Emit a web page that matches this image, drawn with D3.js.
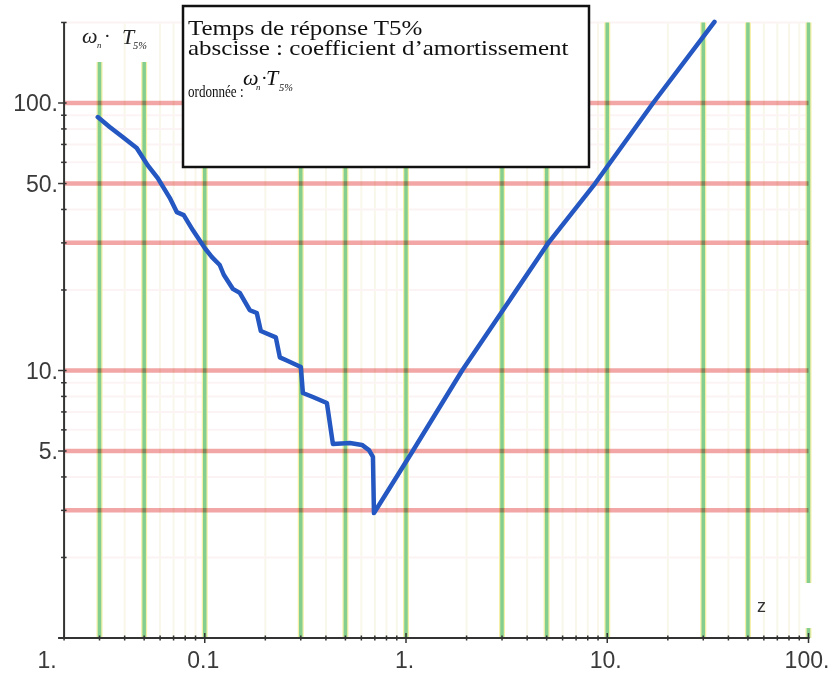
<!DOCTYPE html>
<html>
<head>
<meta charset="utf-8">
<script src="https://cdn.jsdelivr.net/npm/d3@7"></script>
<style>
  html, body { margin: 0; padding: 0; background: #fff; }
  svg { display: block; }
</style>
</head>
<body>
<svg id="chart" width="833" height="675"></svg>
<script>
// Damping coefficient z and normalised 5% response time wn*T5%
const zDamping = [0.0294, 0.0337, 0.0391, 0.0459, 0.0520, 0.0584, 0.0670, 0.0726, 0.0786, 0.0872,
                  0.100, 0.1083, 0.1187, 0.1243, 0.1378, 0.1493, 0.1674, 0.1814, 0.1899, 0.2255,
                  0.2361, 0.2558, 0.3003, 0.3073, 0.3446, 0.4045, 0.4333, 0.5265, 0.6042, 0.6546,
                  0.6851, 0.6931, 1.08, 1.9, 5.1, 8.7, 16.9, 34.1];
const wnT5 = [88.6, 81.4, 74.6, 67.9, 58.6, 52.4, 44.2, 39.1, 38.1, 33.5,
              28.7, 26.6, 24.8, 22.8, 20.2, 19.5, 16.8, 16.4, 14.05, 13.3,
              11.2, 10.9, 10.3, 8.24, 7.96, 7.56, 5.31, 5.36, 5.27, 5.04,
              4.75, 2.93, 5.0, 10, 30, 50, 100, 201];

// Reference grid lines
const greenZ = [0.03, 0.05, 0.1, 0.3, 0.5, 1, 3, 5, 10, 30, 50, 100];
const redY = [3, 5, 10, 30, 50, 100];

// Axis labels
const xTickValues = [0.1, 1, 10, 100];
const xTickLabels = ["0.1", "1.", "10.", "100."];
const xOriginLabel = "1.";
const yTickValues = [100, 50, 10, 5];
const yTickLabels = ["100.", "50.", "10.", "5."];

const legendLines = ["Temps de réponse T5%", "abscisse : coefficient d\u2019amortissement", "ordonnée :"];

const svg = d3.select("#chart");

const x = d3.scaleLog().domain([0.01, 100]).range([3.5, 808.5]);
const y = d3.scaleLog().domain([1, 100]).range([638, 103]);

const xMin = 0.02, xMax = 100, yMin = 1, yMax = 200;

// faint minor grid
const minorZ = [];
[0.01, 0.1, 1, 10].forEach(d => { for (let k = 2; k <= 9; k++) minorZ.push(+(d * k).toPrecision(6)); });
const minorY = [];
[1, 10, 100].forEach(d => { for (let k = 2; k <= 9; k++) if (d * k <= yMax) minorY.push(d * k); });

svg.append("g").selectAll("line")
  .data(minorZ.filter(d => d >= xMin && d <= xMax && !greenZ.includes(d)))
  .join("line")
  .attr("x1", d => x(d)).attr("x2", d => x(d))
  .attr("y1", y(yMax)).attr("y2", y(yMin))
  .attr("stroke", "#f8f7ea").attr("stroke-width", 2);

svg.append("g").selectAll("line")
  .data(minorY.filter(d => !redY.includes(d)))
  .join("line")
  .attr("x1", x(xMin)).attr("x2", x(xMax))
  .attr("y1", d => y(d)).attr("y2", d => y(d))
  .attr("stroke", "#fcf4f4").attr("stroke-width", 2);

// green verticals (yellow halo then green core)
const gTop = d => (d < 0.08 ? 62 : y(yMax));
const gSegments = [];
greenZ.forEach(d => {
  if (d === xMax) {
    gSegments.push([d, gTop(d), 583]);
    gSegments.push([d, 628, y(yMin)]);
  } else {
    gSegments.push([d, gTop(d), y(yMin)]);
  }
});
const gv = svg.append("g");
gv.selectAll("line.halo").data(gSegments).join("line").attr("class", "halo")
  .attr("x1", d => x(d[0])).attr("x2", d => x(d[0]))
  .attr("y1", d => d[1]).attr("y2", d => d[2])
  .attr("stroke", "#f4f0a6").attr("stroke-width", 6);
gv.selectAll("line.core").data(gSegments).join("line").attr("class", "core")
  .attr("x1", d => x(d[0])).attr("x2", d => x(d[0]))
  .attr("y1", d => d[1]).attr("y2", d => d[2])
  .attr("stroke", "#84ce90").attr("stroke-width", 3.5);

// red horizontals
svg.append("g").style("mix-blend-mode", "multiply")
  .selectAll("line").data(redY).join("line")
  .attr("x1", x(xMin)).attr("x2", x(xMax))
  .attr("y1", d => y(d)).attr("y2", d => y(d))
  .attr("stroke", "#f2a6a6").attr("stroke-width", 4.5);

// axes
const axisColor = "#333";
svg.append("line").attr("x1", x(xMin)).attr("x2", x(xMin))
  .attr("y1", y(yMax)).attr("y2", y(yMin) + 1)
  .attr("stroke", axisColor).attr("stroke-width", 2);
svg.append("line").attr("x1", x(xMin) - 6).attr("x2", x(xMax) + 1)
  .attr("y1", y(yMin)).attr("y2", y(yMin))
  .attr("stroke", axisColor).attr("stroke-width", 2);

// x ticks
const xAllTicks = minorZ.concat([0.1, 1, 10, 100]).filter(d => d >= xMin && d <= xMax);
svg.append("g").selectAll("line").data(xAllTicks).join("line")
  .attr("x1", d => x(d)).attr("x2", d => x(d))
  .attr("y1", d => y(yMin) - (xTickValues.includes(d) ? 5 : 2.5))
  .attr("y2", d => y(yMin) + (xTickValues.includes(d) ? 5 : 2.5))
  .attr("stroke", axisColor).attr("stroke-width", 1.5);

// y ticks
const yAllTicks = minorY.concat([10, 100]);
svg.append("g").selectAll("line").data(yAllTicks).join("line")
  .attr("y1", d => y(d)).attr("y2", d => y(d))
  .attr("x1", d => x(xMin) - (yTickValues.includes(d) ? 6 : 3))
  .attr("x2", d => x(xMin) + 2.5)
  .attr("stroke", axisColor).attr("stroke-width", 1.5);

// tick labels
const labelFont = "'Liberation Sans', Arial, sans-serif";
svg.append("g").selectAll("text").data(xTickValues).join("text")
  .attr("x", d => x(d) - 1.5).attr("y", 668)
  .attr("text-anchor", "middle")
  .attr("font-family", labelFont).attr("font-size", 23).attr("fill", "#3a3a3a")
  .text((d, i) => xTickLabels[i]);
svg.append("text").attr("x", x(xMin) - 17).attr("y", 668)
  .attr("text-anchor", "middle")
  .attr("font-family", labelFont).attr("font-size", 23).attr("fill", "#3a3a3a")
  .text(xOriginLabel);
svg.append("g").selectAll("text").data(yTickValues).join("text")
  .attr("x", 58).attr("y", d => y(d) + 8)
  .attr("text-anchor", "end")
  .attr("font-family", labelFont).attr("font-size", 23).attr("fill", "#3a3a3a")
  .text((d, i) => yTickLabels[i]);

svg.append("text").attr("x", 757).attr("y", 612)
  .attr("font-family", labelFont).attr("font-size", 18).attr("fill", "#333")
  .text("z");

// curve
const line = d3.line().x(d => x(d[0])).y(d => y(d[1]));
svg.append("path")
  .datum(zDamping.map((z, i) => [z, wnT5[i]]))
  .attr("d", line)
  .attr("fill", "none")
  .attr("stroke", "#2457c2")
  .attr("stroke-width", 4.5)
  .attr("stroke-linejoin", "round")
  .attr("stroke-linecap", "round");

// legend box
svg.append("rect").attr("x", 183).attr("y", 6).attr("width", 406).attr("height", 161)
  .attr("fill", "#fff").attr("stroke", "#111").attr("stroke-width", 2.5);

const serif = "'Liberation Serif', 'Times New Roman', serif";
function piece(txt, px, py, size, italic, color, sx) {
  svg.append("text")
    .attr("transform", `translate(${px},${py}) scale(${sx || 1.1},1)`)
    .attr("font-family", serif)
    .attr("font-size", size)
    .attr("font-style", italic ? "italic" : "normal")
    .attr("fill", color || "#111")
    .text(txt);
}
piece(legendLines[0], 188, 35, 21, false, "#111", 1.19);
piece(legendLines[1], 188, 55, 21, false, "#111", 1.19);
piece(legendLines[2], 188, 97, 17, false, "#111", 0.77);

// wn . T5% (legend)
piece("\u03c9", 243, 85, 20, true);
piece("n", 256, 90, 8, true);
piece("\u00b7", 261, 84, 18, false);
piece("T", 266, 85, 20, true);
piece("5%", 279, 91, 9.5, true);

// wn . T5% (axis title)
piece("\u03c9", 82, 43, 20, true, "#222");
piece("n", 97, 48, 8, true, "#222");
piece("\u00b7", 104, 42, 18, false, "#222");
piece("T", 122, 44, 20, true, "#222");
piece("5%", 133, 49, 9.5, true, "#222");
</script>
</body>
</html>
